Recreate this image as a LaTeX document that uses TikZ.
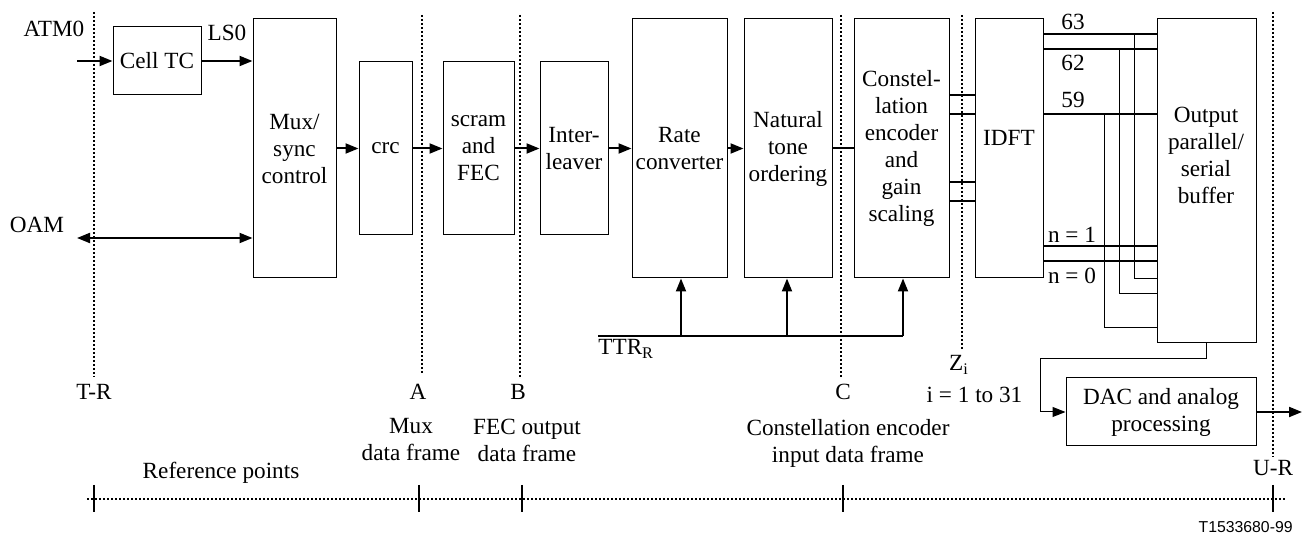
\documentclass[tikz,border=0pt]{standalone}
\usepackage{fontspec}
\setmainfont{Liberation Serif}
\newfontfamily\sansf{Liberation Sans}
\usetikzlibrary{arrows.meta}
\begin{document}
\begin{tikzpicture}[x=0.5pt,y=-0.5pt,
  font=\fontsize{11.6pt}{13.5pt}\selectfont,
  box/.style={draw, line width=0.5pt, inner sep=0pt, align=center},
  thk/.style={line width=1pt},
  thn/.style={line width=0.5pt},
  arr/.style={-{Triangle[length=6.5pt,width=5pt]}},
  darr/.style={{Triangle[length=6.5pt,width=5pt]}-{Triangle[length=6.5pt,width=5pt]}},
  refline/.style={line width=1pt, dash pattern=on 1pt off 1pt},
  lbl/.style={inner sep=0pt, align=center}
]
\useasboundingbox (0,0) rectangle (1308,539);

% boxes
\node[box, minimum width=44pt, minimum height=34pt] (celltc) at (157,61) {Cell TC};
\node[box, minimum width=41.5pt, minimum height=129.5pt] (mux) at (294.5,148.5) {Mux/\\sync\\control};
\node[box, minimum width=26.5pt, minimum height=86.5pt] (crc) at (385.5,148.5) {crc};
\node[box, minimum width=35.5pt, minimum height=86.5pt] (scram) at (478.5,148.5) {scram\\and\\FEC};
\node[box, minimum width=34pt, minimum height=86.5pt] (inter) at (574,148.5) {Inter-\\leaver};
\node[box, minimum width=47.5pt, minimum height=129.5pt] (rate) at (679.5,148.5) {Rate\\converter};
\node[box, minimum width=44pt, minimum height=129.5pt] (natural) at (788,148.5) {Natural\\tone\\ordering};
\node[box, minimum width=47.5pt, minimum height=129.5pt] (const) at (901.5,148.5) {Constel-\\lation\\encoder\\and\\gain\\scaling};
\node[box, minimum width=34pt, minimum height=129.5pt] (idft) at (1009,148.5) {};
\node[lbl] (idftt) at (1009,138) {IDFT};
\node[box, minimum width=49.5pt, minimum height=162pt] (buffer) at (1206.5,181) {};
\node[lbl] (buftxt) at (1206,155) {Output\\parallel/\\serial\\buffer};
\node[box, minimum width=95pt, minimum height=34pt] (dac) at (1161,412) {DAC and analog\\processing};

% reference dotted lines
\coordinate (trT) at (94,12);  \coordinate (trB) at (94,377);
\coordinate (aT) at (422,15);  \coordinate (aB) at (422,375);
\coordinate (bT) at (520,15);  \coordinate (bB) at (520,377);
\coordinate (cT) at (841,15);  \coordinate (cB) at (841,377);
\coordinate (zT) at (962,15);  \coordinate (zB) at (962,351);
\coordinate (urT) at (1273,12); \coordinate (urB) at (1273,457);
\foreach \p in {tr,a,b,c,z,ur} \draw[refline] (\p T) -- (\p B);

% input/output labels
\node[lbl] (atm) at (54,29) {ATM0};
\node[lbl] (ls0) at (227,33) {LS0};
\node[lbl] (oam) at (37,225) {OAM};
\coordinate (atmin) at (77,61);
\coordinate (oamend) at (77,238);
\coordinate (oamy) at (0,238);

\draw[thk,arr] (atmin) -- (celltc.west);
\draw[thk,arr] (celltc.east) -- (celltc.east -| mux.west);
\draw[thk,darr] (oamend) -- (oamend -| mux.west);
\draw[thk,arr] (mux.east) -- (crc.west);
\draw[thk,arr] (crc.east) -- (scram.west);
\draw[thk,arr] (scram.east) -- (inter.west);
\draw[thk,arr] (inter.east) -- (rate.west);
\draw[thk,arr] (rate.east) -- (natural.west);
\draw[thk] (natural.east) -- (const.west);

% constellation -> IDFT
\foreach \yy in {95,114,182,201} {
  \coordinate (cy) at (0,\yy);
  \draw[thk] (const.east |- cy) -- (idft.west |- cy);
}

% IDFT -> buffer
\foreach \yy in {34,49,114,246,261} {
  \coordinate (iy) at (0,\yy);
  \draw[thk] (idft.east |- iy) -- (buffer.west |- iy);
}
\node[lbl] (l63) at (1073,22) {63};
\node[lbl] (l62) at (1073,63) {62};
\node[lbl] (l59) at (1073,100) {59};
\node[lbl] (ln1) at (1072,235) {n = 1};
\node[lbl] (ln0) at (1072,276) {n = 0};

% vertical connectors into the buffer
\coordinate (j63) at (1134,34);  \coordinate (e63) at (1134,279);
\coordinate (j62) at (1119,49);  \coordinate (e62) at (1119,294);
\coordinate (j59) at (1104,114); \coordinate (e59) at (1104,328);
\draw[thn] (j63) -- (e63) -- (e63 -| buffer.west);
\draw[thn] (j62) -- (e62) -- (e62 -| buffer.west);
\draw[thn] (j59) -- (e59) -- (e59 -| buffer.west);

% buffer -> DAC
\coordinate (bd) at (1040,359);
\draw[thn,arr] (buffer.south) |- (bd) |- (dac.west);
\coordinate (out) at (1302,412);
\draw[thk,arr] (dac.east) -- (out);

% TTR
\coordinate (ttrL) at (598,336);
\coordinate (ttrR) at (903,336);
\coordinate (t1) at (681,336);
\coordinate (t2) at (787,336);
\draw[line width=0.7pt] (ttrL) -- (ttrR);
\draw[thk,arr] (t1) -- (t1 |- rate.south);
\draw[thk,arr] (t2) -- (t2 |- natural.south);
\draw[thk,arr] (ttrR) -- (ttrR |- const.south);
\node[lbl, anchor=west] (ttr) at (598,349) {TTR\textsubscript{R}};

% reference point labels
\node[lbl] (trl) at (94,392) {T-R};
\node[lbl] (al) at (418,392) {A};
\node[lbl] (bl) at (518,392) {B};
\node[lbl] (cl) at (843,392) {C};
\node[lbl] (zl) at (959,365) {Z\textsubscript{i}};
\node[lbl] (il) at (974.5,395) {i = 1 to 31};
\node[lbl] (url) at (1273,468) {U-R};

\node[lbl] (muxdf) at (411,440) {Mux\\data frame};
\node[lbl] (fecdf) at (527,440) {FEC output\\data frame};
\node[lbl] (cedf) at (848,443) {Constellation encoder\\input data frame};
\node[lbl] (refp) at (221,473) {Reference points};

% axis
\coordinate (axL) at (87,499);
\coordinate (axR) at (1286,499);
\draw[refline] (axL) -- (axR);
\foreach \xx in {94,419,522,843,1273} \draw[thk] (\xx,485) -- (\xx,512);

\node[lbl, anchor=east, font=\sansf\fontsize{7.9pt}{9pt}\selectfont] (code) at (1293,527) {T1533680-99};
\end{tikzpicture}
\end{document}
